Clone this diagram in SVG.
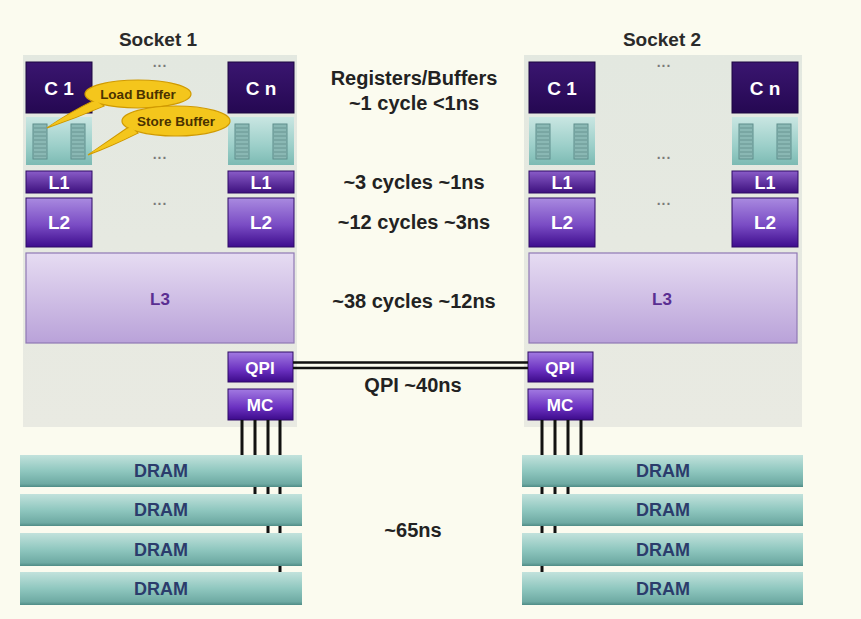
<svg xmlns="http://www.w3.org/2000/svg" width="861" height="619" viewBox="0 0 861 619">
<defs>
<linearGradient id="gCore" x1="0" y1="0" x2="0" y2="1"><stop offset="0" stop-color="#3a1670"/><stop offset="1" stop-color="#250852"/></linearGradient>
<linearGradient id="gL1" x1="0" y1="0" x2="0" y2="1"><stop offset="0" stop-color="#8a5cc8"/><stop offset="1" stop-color="#3d107e"/></linearGradient>
<linearGradient id="gL2" x1="0" y1="0" x2="0" y2="1"><stop offset="0" stop-color="#a98ae0"/><stop offset="0.55" stop-color="#7a4cc4"/><stop offset="1" stop-color="#3e0c8e"/></linearGradient>
<linearGradient id="gQ" x1="0" y1="0" x2="0" y2="1"><stop offset="0" stop-color="#a27ae2"/><stop offset="0.6" stop-color="#6a30c0"/><stop offset="1" stop-color="#3c0a8a"/></linearGradient>
<linearGradient id="gL3" x1="0" y1="0" x2="0" y2="1"><stop offset="0" stop-color="#e6dcf2"/><stop offset="1" stop-color="#b9a2d9"/></linearGradient>
<linearGradient id="gBuf" x1="0" y1="0" x2="0" y2="1"><stop offset="0" stop-color="#c9e6e2"/><stop offset="0.6" stop-color="#9ccfc9"/><stop offset="1" stop-color="#7cbab3"/></linearGradient>
<linearGradient id="gDram" x1="0" y1="0" x2="0" y2="1"><stop offset="0" stop-color="#c2e2dc"/><stop offset="0.5" stop-color="#8fc7bf"/><stop offset="0.9" stop-color="#6eaaa3"/><stop offset="1" stop-color="#4f8c86"/></linearGradient>
<linearGradient id="gPanel" x1="0" y1="0" x2="0" y2="1"><stop offset="0" stop-color="#e3e8e0"/><stop offset="1" stop-color="#e9eae2"/></linearGradient>
<g id="stack">
<rect x="0" y="0" width="14" height="35" fill="#8ab8b4" stroke="#5f8e8c" stroke-width="1"/>
<path d="M1 4H13M1 8H13M1 12H13M1 16H13M1 20H13M1 24H13M1 28H13M1 32H13" stroke="#5f8e8c" stroke-width="0.8"/>
</g>
</defs>
<style>
.panel{fill:url(#gPanel)}
.core{fill:url(#gCore);stroke:#1c0640;stroke-width:1}
.buf{fill:url(#gBuf)}
.l1{fill:url(#gL1);stroke:#2e0a66;stroke-width:1}
.l2{fill:url(#gL2);stroke:#2e0a66;stroke-width:1}
.q{fill:url(#gQ);stroke:#2e0a66;stroke-width:1}
.l3{fill:url(#gL3);stroke:#8f78b4;stroke-width:1.2}
.dram{fill:url(#gDram)}
.wt{font-family:"Liberation Sans",Arial,sans-serif;font-weight:bold;fill:#ffffff;text-anchor:middle}
.hd{font-family:"Liberation Sans",Arial,sans-serif;font-weight:bold;fill:#2a2a2a;text-anchor:middle;font-size:19px}
.mid{font-family:"Liberation Sans",Arial,sans-serif;font-weight:bold;fill:#222222;text-anchor:middle;font-size:20px}
.dt{font-family:"Liberation Sans",Arial,sans-serif;font-weight:bold;fill:#2b3c6c;text-anchor:middle;font-size:18px}
.l3t{font-family:"Liberation Sans",Arial,sans-serif;font-weight:bold;fill:#5a2e92;text-anchor:middle;font-size:17px}
.dots{font-family:"Liberation Sans",Arial,sans-serif;font-weight:bold;fill:#7a7a7a;text-anchor:middle;font-size:14px;letter-spacing:1px}
.bub{fill:#f4c61c;stroke:#d09a00;stroke-width:1.2}
.bt{font-family:"Liberation Sans",Arial,sans-serif;font-weight:bold;fill:#4a3200;text-anchor:middle;font-size:13.5px}
.wire{stroke:#111111;stroke-width:3;fill:none}
</style>
<rect width="861" height="619" fill="#fbfbef"/>

<!-- Socket 1 -->
<g id="socket1">
<rect class="panel" x="23" y="55" width="274" height="372"/>
<text class="hd" x="158" y="46">Socket 1</text>
<text class="dots" x="160" y="67">...</text>
<text class="dots" x="160" y="159">...</text>
<text class="dots" x="160" y="205">...</text>
</g>
<g id="s1-c1"><rect class="core" x="26" y="62" width="66" height="51"/><text class="wt" x="59" y="95" font-size="19">C 1</text></g>
<g id="s1-cn"><rect class="core" x="228" y="62" width="66" height="51"/><text class="wt" x="261" y="95" font-size="19">C n</text></g>
<g id="s1-buf1"><rect class="buf" x="26" y="117" width="66" height="48"/><use href="#stack" x="33" y="124"/><use href="#stack" x="71" y="124"/></g>
<g id="s1-bufn"><rect class="buf" x="228" y="117" width="66" height="48"/><use href="#stack" x="235" y="124"/><use href="#stack" x="273" y="124"/></g>
<g id="s1-l1a"><rect class="l1" x="26" y="171" width="66" height="22"/><text class="wt" x="59" y="189" font-size="18">L1</text></g>
<g id="s1-l1n"><rect class="l1" x="228" y="171" width="66" height="22"/><text class="wt" x="261" y="189" font-size="18">L1</text></g>
<g id="s1-l2a"><rect class="l2" x="26" y="198" width="66" height="49"/><text class="wt" x="59" y="229" font-size="19">L2</text></g>
<g id="s1-l2n"><rect class="l2" x="228" y="198" width="66" height="49"/><text class="wt" x="261" y="229" font-size="19">L2</text></g>
<g id="s1-l3"><rect class="l3" x="26" y="253" width="268" height="90"/><text class="l3t" x="160" y="305">L3</text></g>
<g id="s1-qpi"><rect class="q" x="228" y="352" width="65" height="30"/><text class="wt" x="260" y="374" font-size="17">QPI</text></g>
<g id="s1-mc"><rect class="q" x="228" y="389" width="65" height="31"/><text class="wt" x="260" y="411" font-size="17">MC</text></g>

<!-- Socket 2 -->
<g id="socket2">
<rect class="panel" x="524" y="55" width="278" height="372"/>
<text class="hd" x="662" y="46">Socket 2</text>
<text class="dots" x="664" y="67">...</text>
<text class="dots" x="664" y="159">...</text>
<text class="dots" x="664" y="205">...</text>
</g>
<g id="s2-c1"><rect class="core" x="529" y="62" width="66" height="51"/><text class="wt" x="562" y="95" font-size="19">C 1</text></g>
<g id="s2-cn"><rect class="core" x="732" y="62" width="66" height="51"/><text class="wt" x="765" y="95" font-size="19">C n</text></g>
<g id="s2-buf1"><rect class="buf" x="529" y="117" width="66" height="48"/><use href="#stack" x="536" y="124"/><use href="#stack" x="574" y="124"/></g>
<g id="s2-bufn"><rect class="buf" x="732" y="117" width="66" height="48"/><use href="#stack" x="739" y="124"/><use href="#stack" x="777" y="124"/></g>
<g id="s2-l1a"><rect class="l1" x="529" y="171" width="66" height="22"/><text class="wt" x="562" y="189" font-size="18">L1</text></g>
<g id="s2-l1n"><rect class="l1" x="732" y="171" width="66" height="22"/><text class="wt" x="765" y="189" font-size="18">L1</text></g>
<g id="s2-l2a"><rect class="l2" x="529" y="198" width="66" height="49"/><text class="wt" x="562" y="229" font-size="19">L2</text></g>
<g id="s2-l2n"><rect class="l2" x="732" y="198" width="66" height="49"/><text class="wt" x="765" y="229" font-size="19">L2</text></g>
<g id="s2-l3"><rect class="l3" x="529" y="253" width="268" height="90"/><text class="l3t" x="662" y="305">L3</text></g>
<g id="s2-qpi"><rect class="q" x="528" y="352" width="65" height="30"/><text class="wt" x="560" y="374" font-size="17">QPI</text></g>
<g id="s2-mc"><rect class="q" x="528" y="389" width="65" height="31"/><text class="wt" x="560" y="411" font-size="17">MC</text></g>

<!-- Connectors -->
<g id="connectors">
<path d="M293 362.5H528M293 368H528" stroke="#111111" stroke-width="2.6" fill="none"/>
<path class="wire" d="M242 420V456M255 420V495M268 420V534M280 420V573"/>
<path class="wire" d="M542 420V573M555 420V534M568 420V495M581 420V456"/>
</g>

<!-- DRAMs -->
<g id="s1-dram1"><rect class="dram" x="20" y="455" width="282" height="32"/><text class="dt" x="161" y="477">DRAM</text></g>
<g id="s1-dram2"><rect class="dram" x="20" y="494" width="282" height="32"/><text class="dt" x="161" y="516">DRAM</text></g>
<g id="s1-dram3"><rect class="dram" x="20" y="533" width="282" height="33"/><text class="dt" x="161" y="556">DRAM</text></g>
<g id="s1-dram4"><rect class="dram" x="20" y="572" width="282" height="33"/><text class="dt" x="161" y="595">DRAM</text></g>
<g id="s2-dram1"><rect class="dram" x="522" y="455" width="281" height="32"/><text class="dt" x="663" y="477">DRAM</text></g>
<g id="s2-dram2"><rect class="dram" x="522" y="494" width="281" height="32"/><text class="dt" x="663" y="516">DRAM</text></g>
<g id="s2-dram3"><rect class="dram" x="522" y="533" width="281" height="33"/><text class="dt" x="663" y="556">DRAM</text></g>
<g id="s2-dram4"><rect class="dram" x="522" y="572" width="281" height="33"/><text class="dt" x="663" y="595">DRAM</text></g>

<!-- Callouts -->
<g id="load-buffer">
<path class="bub" d="M95 100 Q70 112 47 128 Q76 118 104 106 Z"/>
<ellipse class="bub" cx="138" cy="94" rx="53" ry="14"/>
<path d="M96 100.5 Q71 112 49 126.5 Q77 117 103 106" fill="#f4c61c" stroke="none"/>
<text class="bt" x="138" y="99">Load Buffer</text>
</g>
<g id="store-buffer">
<path class="bub" d="M130 126 Q110 140 88 155 Q112 146 138 133 Z"/>
<ellipse class="bub" cx="176" cy="121" rx="54" ry="15"/>
<path d="M131 126.5 Q111 140 90 153.5 Q113 145 137 133" fill="#f4c61c" stroke="none"/>
<text class="bt" x="176" y="126">Store Buffer</text>
</g>

<!-- Latency labels -->
<g id="latencies">
<text class="mid" x="414" y="85">Registers/Buffers</text>
<text class="mid" x="414" y="110">~1 cycle &lt;1ns</text>
<text class="mid" x="414" y="189">~3 cycles ~1ns</text>
<text class="mid" x="414" y="229">~12 cycles ~3ns</text>
<text class="mid" x="414" y="308">~38 cycles ~12ns</text>
<text class="mid" x="413" y="392">QPI ~40ns</text>
<text class="mid" x="413" y="537">~65ns</text>
</g>
</svg>
